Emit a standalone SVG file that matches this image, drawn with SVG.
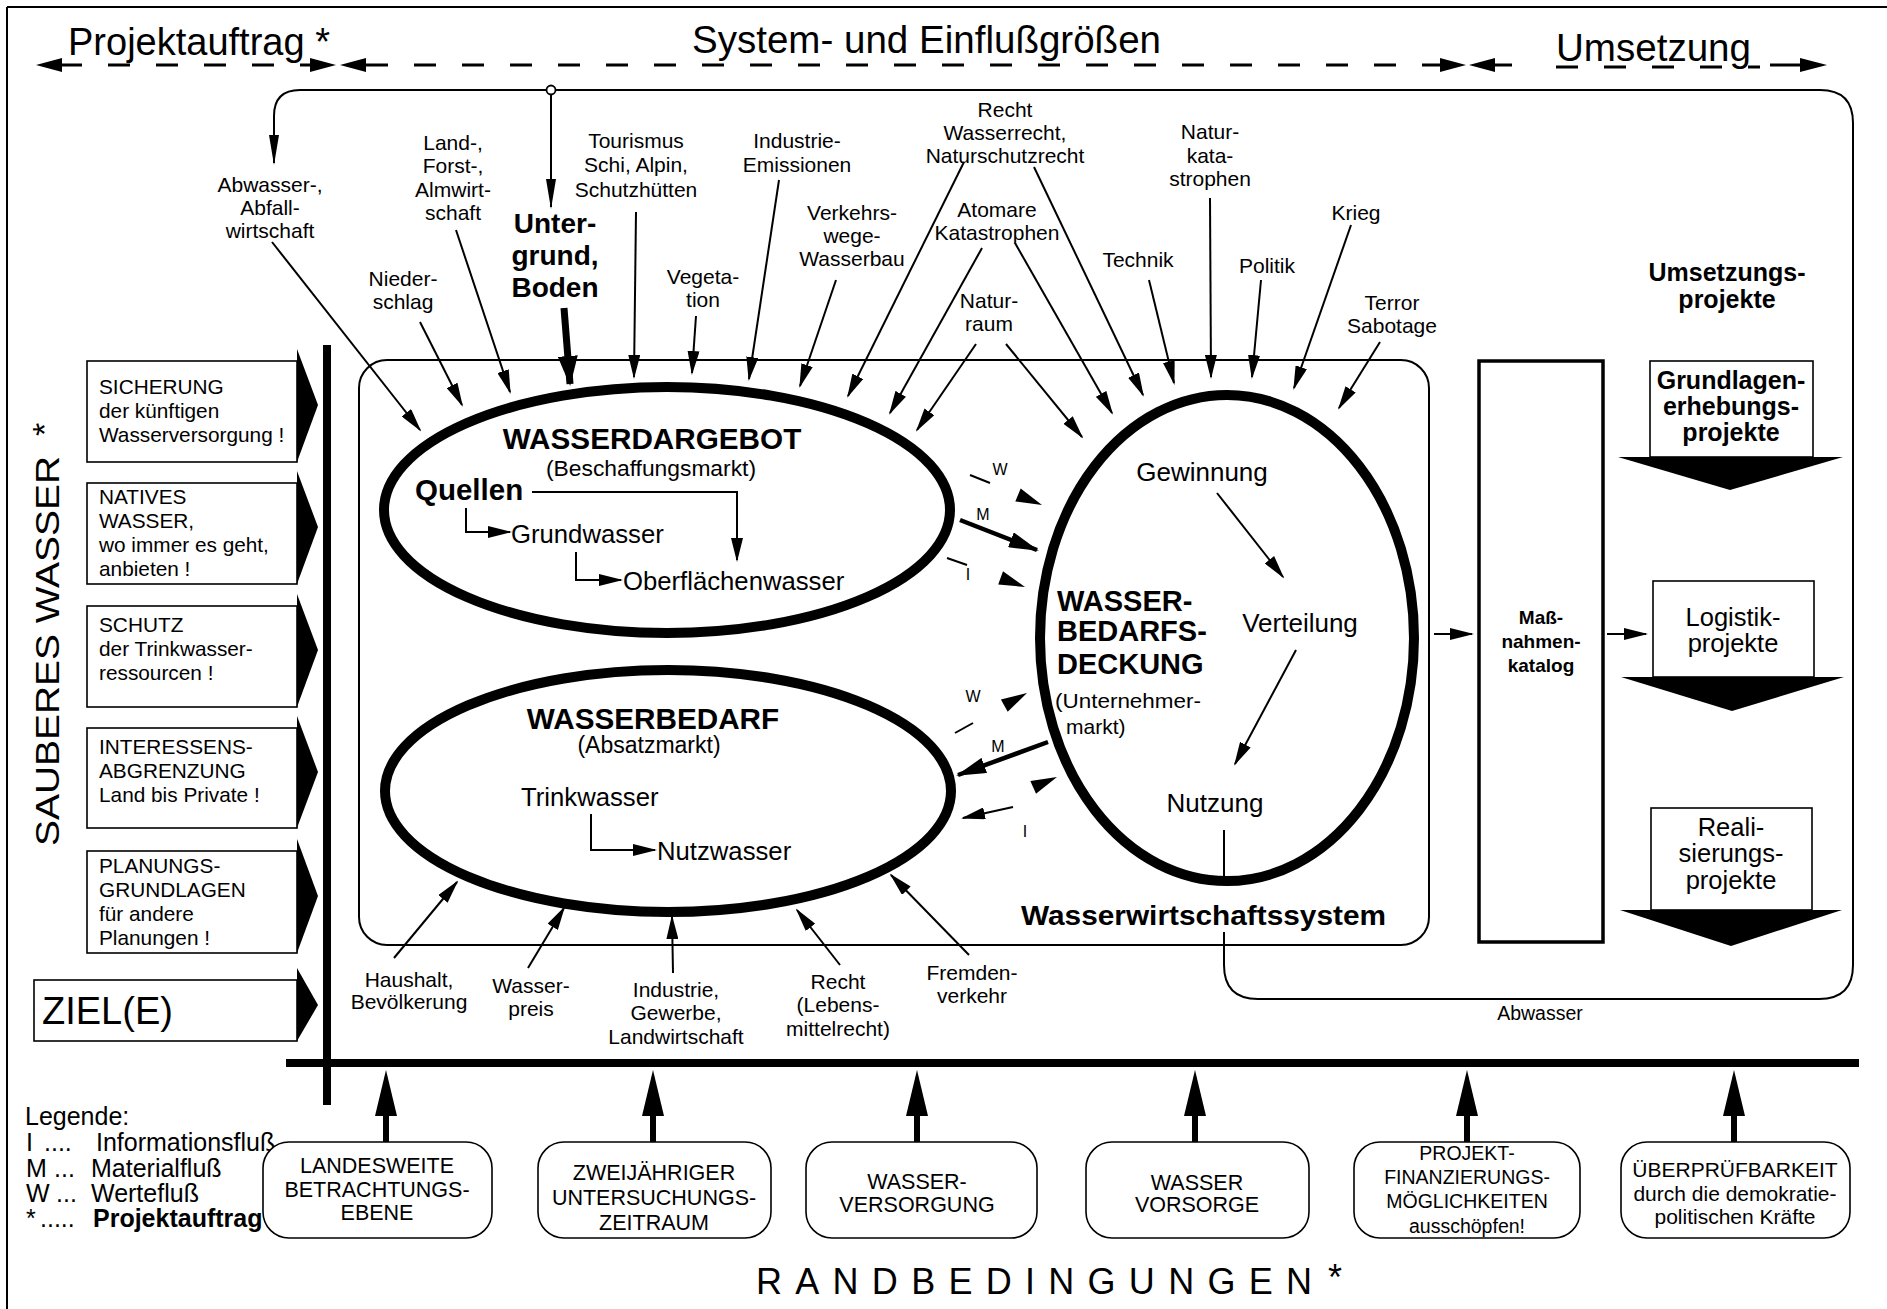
<svg xmlns="http://www.w3.org/2000/svg" width="1887" height="1309" viewBox="0 0 1887 1309">
<defs>
<style>
text{font-family:"Liberation Sans",Arial,Helvetica,sans-serif;fill:#000}
.c{text-anchor:middle}
.s16{font-size:16px}
.s19{font-size:19.5px}
.s20{font-size:21px}
.sl{font-size:20.8px}
.sb{font-size:21.5px}
.s22{font-size:22px}
.s24{font-size:25.7px}
.s25{font-size:25px}
.s38{font-size:38px}
.b{font-weight:bold}
.ln{stroke:#000;stroke-width:2;fill:none}
.th{stroke:#000;stroke-width:10;fill:none}
.bx{stroke:#000;stroke-width:1.6;fill:#fff}
.tri{fill:#000}
</style>
<marker id="ah" viewBox="0 0 24 12" refX="22" refY="6" markerWidth="24" markerHeight="12" markerUnits="userSpaceOnUse" orient="auto"><path d="M0,0L24,6L0,12z"/></marker>
<marker id="ahn" viewBox="0 0 30 10" refX="28" refY="5" markerWidth="30" markerHeight="10" markerUnits="userSpaceOnUse" orient="auto"><path d="M0,0L30,5L0,10z"/></marker>
<marker id="ahm" viewBox="0 0 30 16" refX="28" refY="8" markerWidth="30" markerHeight="16" markerUnits="userSpaceOnUse" orient="auto"><path d="M0,0L30,8L0,16z"/></marker>
<marker id="ahb" viewBox="0 0 30 20" refX="28" refY="10" markerWidth="30" markerHeight="20" markerUnits="userSpaceOnUse" orient="auto"><path d="M0,0L30,10L0,20z"/></marker>
</defs>
<rect x="0" y="0" width="1887" height="1309" fill="#fff"/>

<!-- frame -->
<g id="frame">
<line x1="7" y1="7" x2="1887" y2="7" stroke="#000" stroke-width="2"/>
<line x1="7" y1="7" x2="7" y2="1309" stroke="#000" stroke-width="2"/>
</g>

<!-- header -->
<g id="header">
<text class="s38" x="68" y="55">Projektauftrag *</text>
<text class="s38" x="692" y="53" textLength="469" lengthAdjust="spacingAndGlyphs">System- und Einflußgrößen</text>
<text class="s38" x="1556" y="61" textLength="195" lengthAdjust="spacingAndGlyphs">Umsetzung</text>
<line x1="60" y1="65" x2="310" y2="65" stroke="#000" stroke-width="3" stroke-dasharray="22 26"/>
<line x1="366" y1="65" x2="1440" y2="65" stroke="#000" stroke-width="3" stroke-dasharray="22 26"/>
<line x1="1495" y1="65" x2="1512" y2="65" stroke="#000" stroke-width="3"/>
<line x1="1556" y1="67" x2="1760" y2="67" stroke="#000" stroke-width="3" stroke-dasharray="22 26"/>
<line x1="1770" y1="65" x2="1800" y2="65" stroke="#000" stroke-width="3"/>
<polygon class="tri" points="36,65 62,58 62,72"/>
<polygon class="tri" points="336,65 310,58 310,72"/>
<polygon class="tri" points="340,65 366,58 366,72"/>
<polygon class="tri" points="1466,65 1440,58 1440,72"/>
<polygon class="tri" points="1469,65 1495,58 1495,72"/>
<polygon class="tri" points="1827,65 1800,58 1800,72"/>
</g>

<!-- connectors -->
<g id="connectors">
<!-- top loop -->
<path class="ln" d="M551,90 H300 Q274,90 274,116 V163" marker-end="url(#ahn)"/>
<path class="ln" d="M551,90 H1820 Q1853,90 1853,123 V965 Q1853,999 1819,999 H1258 Q1224,999 1224,965 V932"/>
<line class="ln" x1="1224" y1="882" x2="1224" y2="830"/>
<line class="ln" x1="551" y1="94" x2="551" y2="207" marker-end="url(#ahn)"/>
<circle cx="551" cy="90" r="4.5" fill="#fff" stroke="#000" stroke-width="1.8"/>
<!-- upper influences -->
<line class="ln" x1="272" y1="242" x2="420" y2="430" marker-end="url(#ah)"/>
<line class="ln" x1="420" y1="322" x2="462" y2="405" marker-end="url(#ah)"/>
<line class="ln" x1="456" y1="230" x2="510" y2="392" marker-end="url(#ah)"/>
<line x1="564" y1="308" x2="570" y2="384" stroke="#000" stroke-width="7" marker-end="url(#ahb)"/>
<line class="ln" x1="636" y1="212" x2="634" y2="377" marker-end="url(#ah)"/>
<line class="ln" x1="696" y1="316" x2="692" y2="373" marker-end="url(#ah)"/>
<line class="ln" x1="779" y1="180" x2="749" y2="379" marker-end="url(#ah)"/>
<line class="ln" x1="836" y1="280" x2="800" y2="386" marker-end="url(#ah)"/>
<line class="ln" x1="964" y1="162" x2="848" y2="396" marker-end="url(#ah)"/>
<line class="ln" x1="982" y1="248" x2="890" y2="413" marker-end="url(#ah)"/>
<line class="ln" x1="976" y1="344" x2="917" y2="430" marker-end="url(#ah)"/>
<line class="ln" x1="1006" y1="344" x2="1082" y2="437" marker-end="url(#ah)"/>
<line class="ln" x1="1015" y1="243" x2="1112" y2="413" marker-end="url(#ah)"/>
<line class="ln" x1="1034" y1="167" x2="1143" y2="395" marker-end="url(#ah)"/>
<line class="ln" x1="1149" y1="280" x2="1174" y2="383" marker-end="url(#ah)"/>
<line class="ln" x1="1210" y1="198" x2="1211" y2="377" marker-end="url(#ah)"/>
<line class="ln" x1="1261" y1="280" x2="1252" y2="377" marker-end="url(#ah)"/>
<line class="ln" x1="1351" y1="225" x2="1294" y2="388" marker-end="url(#ah)"/>
<line class="ln" x1="1380" y1="342" x2="1339" y2="408" marker-end="url(#ah)"/>
<!-- lower influences -->
<line class="ln" x1="394" y1="958" x2="457" y2="882" marker-end="url(#ah)"/>
<line class="ln" x1="528" y1="968" x2="564" y2="908" marker-end="url(#ah)"/>
<line class="ln" x1="673" y1="973" x2="672" y2="917" marker-end="url(#ah)"/>
<line class="ln" x1="840" y1="965" x2="797" y2="910" marker-end="url(#ah)"/>
<line class="ln" x1="969" y1="955" x2="891" y2="875" marker-end="url(#ah)"/>
<!-- flows between ellipses -->
<line class="ln" x1="970" y1="475" x2="990" y2="483"/>
<polygon class="tri" points="1042,505 1015.3,501.5 1020.7,488.5"/>
<line x1="960" y1="520" x2="1037" y2="550" stroke="#000" stroke-width="4.5" marker-end="url(#ahm)"/>
<line class="ln" x1="947" y1="558" x2="967" y2="565"/>
<polygon class="tri" points="1025,587 998.2,584.5 1003,571.3"/>
<line class="ln" x1="955" y1="733" x2="973" y2="723"/>
<polygon class="tri" points="1027,693 1007.7,711.7 1000.9,699.5"/>
<line x1="1048" y1="742" x2="958" y2="775" stroke="#000" stroke-width="4.5" marker-end="url(#ahm)"/>
<line class="ln" x1="1013" y1="807" x2="963" y2="818" marker-end="url(#ah)"/>
<polygon class="tri" points="1057,777 1036,793.8 1030.4,781"/>
<!-- inner ellipse connectors -->
<path class="ln" d="M532,492 H737 V560" marker-end="url(#ah)"/>
<path class="ln" d="M466,508 V532 H510" marker-end="url(#ah)"/>
<path class="ln" d="M576,552 V580 H621" marker-end="url(#ah)"/>
<path class="ln" d="M591,814 V850 H655" marker-end="url(#ah)"/>
<line class="ln" x1="1217" y1="493" x2="1283" y2="577" marker-end="url(#ah)"/>
<line class="ln" x1="1296" y1="650" x2="1235" y2="764" marker-end="url(#ah)"/>
<!-- catalog arrows -->
<line class="ln" x1="1434" y1="634" x2="1472" y2="634" marker-end="url(#ah)"/>
<line class="ln" x1="1607" y1="634" x2="1646" y2="634" marker-end="url(#ah)"/>
<!-- bars -->
<line x1="327" y1="345" x2="327" y2="1105" stroke="#000" stroke-width="8"/>
<line x1="286" y1="1063" x2="1859" y2="1063" stroke="#000" stroke-width="8"/>
<!-- bottom up arrows -->
<g fill="#000">
<rect x="383" y="1110" width="6" height="32"/><polygon points="375,1116 386,1070 397,1116"/>
<rect x="650" y="1110" width="6" height="32"/><polygon points="642,1116 653,1070 664,1116"/>
<rect x="914" y="1110" width="6" height="32"/><polygon points="906,1116 917,1070 928,1116"/>
<rect x="1192" y="1110" width="6" height="32"/><polygon points="1184,1116 1195,1070 1206,1116"/>
<rect x="1464" y="1110" width="6" height="32"/><polygon points="1456,1116 1467,1070 1478,1116"/>
<rect x="1731" y="1110" width="6" height="32"/><polygon points="1723,1116 1734,1070 1745,1116"/>
</g>
</g>

<!-- upper influence labels -->
<g id="influences-top" class="s20">
<text class="c" x="270" y="192">Abwasser-,</text><text class="c" x="270" y="215">Abfall-</text><text class="c" x="270" y="238">wirtschaft</text>
<text class="c" x="453" y="150">Land-,</text><text class="c" x="453" y="173">Forst-,</text><text class="c" x="453" y="197">Almwirt-</text><text class="c" x="453" y="220">schaft</text>
<text class="c" x="403" y="286">Nieder-</text><text class="c" x="403" y="309">schlag</text>
<text class="c" x="636" y="148">Tourismus</text><text class="c" x="636" y="172">Schi, Alpin,</text><text class="c" x="636" y="197">Schutzhütten</text>
<text class="c" x="703" y="284">Vegeta-</text><text class="c" x="703" y="307">tion</text>
<text class="c" x="797" y="148">Industrie-</text><text class="c" x="797" y="172">Emissionen</text>
<text class="c" x="852" y="220">Verkehrs-</text><text class="c" x="852" y="243">wege-</text><text class="c" x="852" y="266">Wasserbau</text>
<text class="c" x="1005" y="117">Recht</text><text class="c" x="1005" y="140">Wasserrecht,</text><text class="c" x="1005" y="163">Naturschutzrecht</text>
<text class="c" x="997" y="217">Atomare</text><text class="c" x="997" y="240">Katastrophen</text>
<text class="c" x="989" y="308">Natur-</text><text class="c" x="989" y="331">raum</text>
<text class="c" x="1138" y="267">Technik</text>
<text class="c" x="1210" y="139">Natur-</text><text class="c" x="1210" y="163">kata-</text><text class="c" x="1210" y="186">strophen</text>
<text class="c" x="1267" y="273">Politik</text>
<text class="c" x="1356" y="220">Krieg</text>
<text class="c" x="1392" y="310">Terror</text><text class="c" x="1392" y="333">Sabotage</text>
</g>
<g id="untergrund" class="b" style="font-size:28px">
<text class="c" x="555" y="233">Unter-</text><text class="c" x="555" y="265">grund,</text><text class="c" x="555" y="297">Boden</text>
</g>

<!-- lower influence labels -->
<g id="influences-bottom" class="s20">
<text class="c" x="409" y="987">Haushalt,</text><text class="c" x="409" y="1009">Bevölkerung</text>
<text class="c" x="531" y="993">Wasser-</text><text class="c" x="531" y="1016">preis</text>
<text class="c" x="676" y="997">Industrie,</text><text class="c" x="676" y="1020">Gewerbe,</text><text class="c" x="676" y="1044">Landwirtschaft</text>
<text class="c" x="838" y="989">Recht</text><text class="c" x="838" y="1012">(Lebens-</text><text class="c" x="838" y="1036">mittelrecht)</text>
<text class="c" x="972" y="980">Fremden-</text><text class="c" x="972" y="1003">verkehr</text>
</g>

<!-- system -->
<g id="system">
<rect x="359" y="360" width="1070" height="585" rx="28" ry="28" fill="none" stroke="#000" stroke-width="2"/>
<text class="b" x="1021" y="925" style="font-size:28px" textLength="365" lengthAdjust="spacingAndGlyphs">Wasserwirtschaftssystem</text>
</g>

<g id="wasserdargebot">
<ellipse class="th" cx="667" cy="510" rx="283" ry="123"/>
<text class="c b" x="652" y="449" style="font-size:29.7px">WASSERDARGEBOT</text>
<text class="c s22" x="651" y="476" textLength="210" lengthAdjust="spacingAndGlyphs">(Beschaffungsmarkt)</text>
<text class="b" x="415" y="500" style="font-size:29.5px">Quellen</text>
<text class="s24" x="511" y="543">Grundwasser</text>
<text class="s24" x="623" y="590">Oberflächenwasser</text>
</g>

<g id="wasserbedarf">
<ellipse class="th" cx="668" cy="791" rx="283" ry="121"/>
<text class="c b" x="653" y="729" style="font-size:29.7px">WASSERBEDARF</text>
<text class="c" x="649" y="753" style="font-size:23px">(Absatzmarkt)</text>
<text class="s24" x="521" y="806">Trinkwasser</text>
<text class="s24" x="657" y="860">Nutzwasser</text>
</g>

<g id="bedarfsdeckung">
<ellipse class="th" cx="1227" cy="638" rx="187" ry="243"/>
<text class="c" x="1202" y="481" style="font-size:26px">Gewinnung</text>
<text class="c" x="1300" y="632" style="font-size:26px">Verteilung</text>
<text class="c" x="1215" y="812" style="font-size:26px">Nutzung</text>
<text class="b" x="1057" y="611" style="font-size:29px">WASSER-</text>
<text class="b" x="1057" y="641" style="font-size:29px">BEDARFS-</text>
<text class="b" x="1057" y="674" style="font-size:29px">DECKUNG</text>
<text x="1055" y="708" style="font-size:21px" textLength="146" lengthAdjust="spacingAndGlyphs">(Unternehmer-</text>
<text x="1066" y="734" style="font-size:21px">markt)</text>
</g>

<g id="flow-labels" class="s16">
<text class="c" x="1000" y="475">W</text>
<text class="c" x="983" y="520">M</text>
<text class="c" x="968" y="580">I</text>
<text class="c" x="973" y="702">W</text>
<text class="c" x="998" y="752">M</text>
<text class="c" x="1025" y="837">I</text>
</g>

<g id="abwasser-label"><text class="c s19" x="1540" y="1020">Abwasser</text></g>

<g id="massnahmenkatalog">
<rect x="1479" y="361" width="124" height="581" fill="none" stroke="#000" stroke-width="3.5"/>
<text class="c b" x="1541" y="624" style="font-size:19px">Maß-</text>
<text class="c b" x="1541" y="648" style="font-size:19px">nahmen-</text>
<text class="c b" x="1541" y="672" style="font-size:19px">katalog</text>
</g>

<g id="umsetzungsprojekte">
<text class="c b" x="1727" y="281" style="font-size:25px">Umsetzungs-</text>
<text class="c b" x="1727" y="308" style="font-size:25px">projekte</text>
</g>
<g id="grundlagen">
<rect class="bx" x="1650" y="361" width="163" height="96"/>
<polygon class="tri" points="1618,457 1843,457 1730,490"/>
<text class="c b" x="1731" y="389" style="font-size:25px">Grundlagen-</text>
<text class="c b" x="1731" y="415" style="font-size:25px">erhebungs-</text>
<text class="c b" x="1731" y="441" style="font-size:25px">projekte</text>
</g>
<g id="logistik">
<rect class="bx" x="1653" y="581" width="161" height="96"/>
<polygon class="tri" points="1621,677 1844,677 1732,711"/>
<text class="c" x="1733" y="626" style="font-size:25.5px">Logistik-</text>
<text class="c" x="1733" y="652" style="font-size:25.5px">projekte</text>
</g>
<g id="realisierung">
<rect class="bx" x="1651" y="808" width="161" height="102"/>
<polygon class="tri" points="1620,910 1842,910 1731,946"/>
<text class="c" x="1731" y="836" style="font-size:25.5px">Reali-</text>
<text class="c" x="1731" y="862" style="font-size:25.5px">sierungs-</text>
<text class="c" x="1731" y="889" style="font-size:25.5px">projekte</text>
</g>

<!-- left goals -->
<g id="sauberes-wasser">
<text transform="translate(59,846) rotate(-90)" style="font-size:34px" textLength="390" lengthAdjust="spacingAndGlyphs">SAUBERES WASSER</text>
<text transform="translate(56,436) rotate(-90)" style="font-size:34px">*</text>
</g>
<g id="ziel1" class="sl">
<rect class="bx" x="87" y="361" width="210" height="101"/>
<polygon class="tri" points="297,349 318,405 297,462"/>
<text x="99" y="394">SICHERUNG</text><text x="99" y="418">der künftigen</text><text x="99" y="442">Wasserversorgung !</text>
</g>
<g id="ziel2" class="sl">
<rect class="bx" x="87" y="483" width="210" height="101"/>
<polygon class="tri" points="297,471 318,527 297,584"/>
<text x="99" y="504">NATIVES</text><text x="99" y="528">WASSER,</text><text x="99" y="552">wo immer es geht,</text><text x="99" y="576">anbieten !</text>
</g>
<g id="ziel3" class="sl">
<rect class="bx" x="87" y="606" width="210" height="101"/>
<polygon class="tri" points="297,594 318,650 297,707"/>
<text x="99" y="632">SCHUTZ</text><text x="99" y="656">der Trinkwasser-</text><text x="99" y="680">ressourcen !</text>
</g>
<g id="ziel4" class="sl">
<rect class="bx" x="87" y="728" width="210" height="100"/>
<polygon class="tri" points="297,716 318,772 297,828"/>
<text x="99" y="754">INTERESSENS-</text><text x="99" y="778">ABGRENZUNG</text><text x="99" y="802">Land bis Private !</text>
</g>
<g id="ziel5" class="sl">
<rect class="bx" x="87" y="851" width="210" height="102"/>
<polygon class="tri" points="297,839 318,896 297,953"/>
<text x="99" y="873">PLANUNGS-</text><text x="99" y="897">GRUNDLAGEN</text><text x="99" y="921">für andere</text><text x="99" y="945">Planungen !</text>
</g>
<g id="ziele">
<rect class="bx" x="34" y="980" width="263" height="61"/>
<polygon class="tri" points="297,968 318,1005 297,1041"/>
<text x="42" y="1024" style="font-size:38px">ZIEL(E)</text>
</g>

<!-- legend -->
<g id="legend" class="s25">
<text x="25" y="1125">Legende:</text>
<text x="26" y="1151">I</text><text x="44" y="1151">....</text><text x="96" y="1151">Informationsfluß</text>
<text x="26" y="1177">M</text><text x="54" y="1177">...</text><text x="91" y="1177">Materialfluß</text>
<text x="26" y="1202">W</text><text x="56" y="1202">...</text><text x="91" y="1202">Wertefluß</text>
<text x="26" y="1227">*</text><text x="40" y="1227">.....</text><text class="b" x="93" y="1227">Projektauftrag</text>
</g>

<!-- bottom constraint boxes -->
<g id="rb1" class="sb">
<rect class="bx" x="263" y="1142" width="229" height="96" rx="26" ry="26"/>
<text class="c" x="377" y="1173">LANDESWEITE</text><text class="c" x="377" y="1197">BETRACHTUNGS-</text><text class="c" x="377" y="1220">EBENE</text>
</g>
<g id="rb2" class="sb">
<rect class="bx" x="538" y="1142" width="233" height="96" rx="26" ry="26"/>
<text class="c" x="654" y="1180">ZWEIJÄHRIGER</text><text class="c" x="654" y="1205">UNTERSUCHUNGS-</text><text class="c" x="654" y="1230">ZEITRAUM</text>
</g>
<g id="rb3" class="sb">
<rect class="bx" x="806" y="1142" width="231" height="96" rx="26" ry="26"/>
<text class="c" x="917" y="1189">WASSER-</text><text class="c" x="917" y="1212">VERSORGUNG</text>
</g>
<g id="rb4" class="sb">
<rect class="bx" x="1086" y="1142" width="223" height="96" rx="26" ry="26"/>
<text class="c" x="1197" y="1190">WASSER</text><text class="c" x="1197" y="1212">VORSORGE</text>
</g>
<g id="rb5" class="s19">
<rect class="bx" x="1354" y="1142" width="226" height="96" rx="26" ry="26"/>
<text class="c" x="1467" y="1160">PROJEKT-</text><text class="c" x="1467" y="1184">FINANZIERUNGS-</text><text class="c" x="1467" y="1208">MÖGLICHKEITEN</text><text class="c" x="1467" y="1233">ausschöpfen!</text>
</g>
<g id="rb6" class="s20">
<rect class="bx" x="1621" y="1142" width="229" height="96" rx="26" ry="26"/>
<text class="c" x="1735" y="1177">ÜBERPRÜFBARKEIT</text><text class="c" x="1735" y="1201">durch die demokratie-</text><text class="c" x="1735" y="1224">politischen Kräfte</text>
</g>
<g id="randbedingungen">
<text x="756" y="1294" style="font-size:36px" textLength="556" lengthAdjust="spacing">RANDBEDINGUNGEN</text>
<text x="1328" y="1290" style="font-size:36px">*</text>
</g>
</svg>
